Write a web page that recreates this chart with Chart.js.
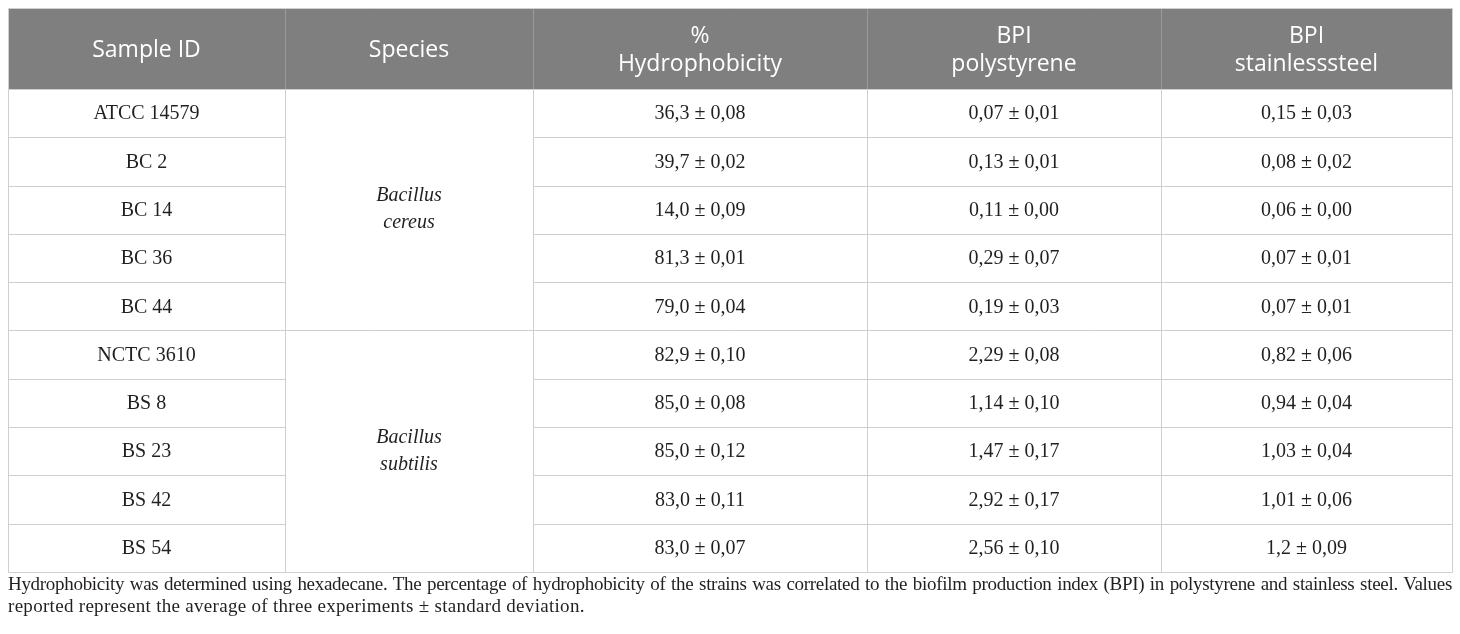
<!DOCTYPE html>
<html>
<head>
<meta charset="utf-8">
<script src="https://cdn.jsdelivr.net/npm/chart.js@4.4.1/dist/chart.umd.min.js"></script>
<style>
html,body{margin:0;padding:0;background:#fff;}
#wrap{position:relative;width:1460px;height:634px;overflow:hidden;}
#note{position:absolute;left:8px;top:573px;width:1444px;font-family:"Liberation Serif","Times New Roman",serif;font-size:19px;line-height:22px;color:#231f20;}
#note .l1{display:block;text-align:justify;text-align-last:justify;letter-spacing:-0.3px;}
#note .l2{display:block;letter-spacing:0.3px;}
</style>
</head>
<body>
<div id="wrap">
<canvas id="c" width="1460" height="634"></canvas>
<div id="note"><span class="l1">Hydrophobicity was determined using hexadecane. The percentage of hydrophobicity of the strains was correlated to the biofilm production index (BPI) in polystyrene and stainless steel. Values</span><span class="l2">reported represent the average of three experiments ± standard deviation.</span></div>
</div>
<script>
// table content
const headers=[['Sample ID'],['Species'],['%','Hydrophobicity'],['BPI','polystyrene'],['BPI','stainlesssteel']];
const sampleIds=['ATCC 14579','BC 2','BC 14','BC 36','BC 44','NCTC 3610','BS 8','BS 23','BS 42','BS 54'];
const speciesGroups=[['Bacillus','cereus'],['Bacillus','subtilis']];
const groupSizes=[5,5];
const hydro=['36,3','39,7','14,0','81,3','79,0','82,9','85,0','85,0','83,0','83,0'];
const hydroSd=['0,08','0,02','0,09','0,01','0,04','0,10','0,08','0,12','0,11','0,07'];
const bpiPs=['0,07','0,13','0,11','0,29','0,19','2,29','1,14','1,47','2,92','2,56'];
const bpiPsSd=['0,01','0,01','0,00','0,07','0,03','0,08','0,10','0,17','0,17','0,10'];
const bpiSs=['0,15','0,08','0,06','0,07','0,07','0,82','0,94','1,03','1,01','1,2'];
const bpiSsSd=['0,03','0,02','0,00','0,01','0,01','0,06','0,04','0,04','0,06','0,09'];

// layout
const colEdges=[0,277,525,859,1153,1444];
const headerRows=1.675;
const nRows=sampleIds.length;
const colMid=i=>(colEdges[i]+colEdges[i+1])/2;

const cellText=[
  sampleIds,
  null,
  hydro.map((v,i)=>v+' ± '+hydroSd[i]),
  bpiPs.map((v,i)=>v+' ± '+bpiPsSd[i]),
  bpiSs.map((v,i)=>v+' ± '+bpiSsSd[i])
];

const datasets=[];
cellText.forEach((col,ci)=>{
  if(!col)return;
  datasets.push({label:headers[ci].join(' '),col:ci,texts:col,
    data:col.map((t,ri)=>({x:colMid(ci),y:ri+0.5})),pointRadius:0});
});
let start=0;
speciesGroups.forEach((g,gi)=>{
  datasets.push({label:g.join(' '),species:true,texts:[g],
    data:[{x:colMid(1),y:start+groupSizes[gi]/2}],pointRadius:0});
  start+=groupSizes[gi];
});

const tablePlugin={
  id:'tablePlugin',
  afterDraw(chart){
    const ctx=chart.ctx,x=chart.scales.x,y=chart.scales.y;
    const X=v=>Math.round(x.getPixelForValue(v))+0.5;
    const Y=v=>Math.round(y.getPixelForValue(v))+0.5;
    const left=X(0),right=X(colEdges[colEdges.length-1]);
    const top=Y(-headerRows),hb=Y(0),bottom=Y(nRows);
    ctx.save();
    ctx.fillStyle='#7f7f7f';
    ctx.fillRect(left,top,right-left,hb-top);
    ctx.lineWidth=1;
    // header dividers
    ctx.strokeStyle='#9a9a9a';
    ctx.beginPath();
    colEdges.slice(1,-1).forEach(e=>{ctx.moveTo(X(e),top);ctx.lineTo(X(e),hb);});
    ctx.stroke();
    // body grid
    ctx.strokeStyle='#cfcfcf';
    ctx.beginPath();
    colEdges.forEach(e=>{ctx.moveTo(X(e),hb);ctx.lineTo(X(e),bottom);});
    let bounds=[0];let acc=0;groupSizes.forEach(s=>{acc+=s;bounds.push(acc);});
    for(let r=0;r<=nRows;r++){
      if(bounds.includes(r)){ctx.moveTo(left,Y(r));ctx.lineTo(right,Y(r));}
      else{ctx.moveTo(left,Y(r));ctx.lineTo(X(colEdges[1]),Y(r));
           ctx.moveTo(X(colEdges[2]),Y(r));ctx.lineTo(right,Y(r));}
    }
    ctx.moveTo(left,top);ctx.lineTo(right,top);
    ctx.moveTo(left,top);ctx.lineTo(left,hb);
    ctx.moveTo(right,top);ctx.lineTo(right,hb);
    ctx.stroke();
    // header text
    ctx.fillStyle='#ffffff';
    ctx.font='23px "Open Sans", sans-serif';
    ctx.textAlign='center';ctx.textBaseline='middle';
    const hc=(top+hb)/2+1;
    headers.forEach((lines,ci)=>{
      const cx=x.getPixelForValue(colMid(ci));
      lines.forEach((t,li)=>ctx.fillText(t,cx,hc+(li-(lines.length-1)/2)*28));
    });
    // body text
    ctx.fillStyle='#231f20';
    chart.data.datasets.forEach((ds,di)=>{
      const meta=chart.getDatasetMeta(di);
      meta.data.forEach((pt,pi)=>{
        if(ds.species){
          ctx.font='italic 20px "Liberation Serif", serif';
          const lines=ds.texts[pi];
          lines.forEach((t,li)=>ctx.fillText(t,pt.x,pt.y+(li-(lines.length-1)/2)*27));
        }else{
          ctx.font='20px "Liberation Serif", serif';
          ctx.fillText(ds.texts[pi],pt.x,pt.y+1);
        }
      });
    });
    ctx.restore();
  }
};

new Chart(document.getElementById('c'),{
  type:'scatter',
  data:{datasets:datasets},
  options:{
    responsive:false,animation:false,devicePixelRatio:1,
    layout:{padding:{left:8,right:8,top:8,bottom:62}},
    plugins:{legend:{display:false},tooltip:{enabled:false}},
    scales:{
      x:{type:'linear',min:0,max:colEdges[colEdges.length-1],display:false},
      y:{type:'linear',min:-headerRows,max:nRows,reverse:true,display:false}
    }
  },
  plugins:[tablePlugin]
});
</script>
</body>
</html>
